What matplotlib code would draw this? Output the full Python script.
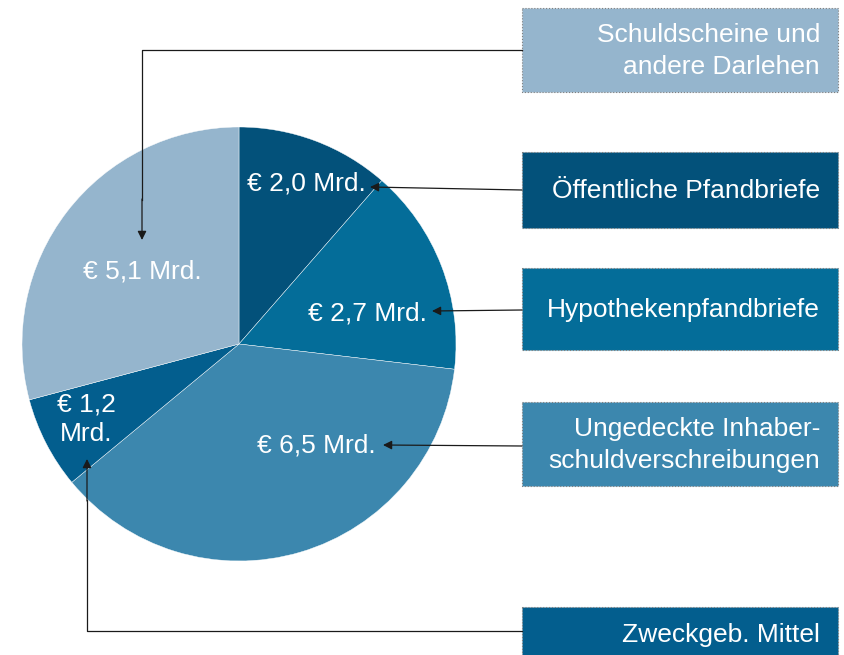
import matplotlib

matplotlib.use("Agg")
import matplotlib.pyplot as plt
from matplotlib.patches import Rectangle

# data (clockwise from 12 o'clock)
categories = [
    "Öffentliche Pfandbriefe",
    "Hypothekenpfandbriefe",
    "Ungedeckte Inhaber-\nschuldverschreibungen",
    "Zweckgeb. Mittel",
    "Schuldscheine und\nandere Darlehen",
]
values = [2.0, 2.7, 6.5, 1.2, 5.1]
value_labels = ["€ 2,0 Mrd.", "€ 2,7 Mrd.", "€ 6,5 Mrd.", "€ 1,2\nMrd.", "€ 5,1 Mrd."]
colors = ["#03517a", "#046d99", "#3c87ae", "#035e8e", "#95b5cd"]

plt.rcParams["font.family"] = ["Liberation Sans", "DejaVu Sans"]

fig = plt.figure(figsize=(8.44, 6.55), dpi=100)
ax = fig.add_axes([0, 0, 1, 1])

# pixel-like coordinates, y pointing down -> pie angles flip
ax.pie(values, colors=colors, startangle=-90, counterclock=True,
       center=(239, 344), radius=217,
       wedgeprops=dict(edgecolor="white", linewidth=0.3))
ax.set_xlim(0, 844)
ax.set_ylim(655, 0)
ax.set_aspect("equal")
ax.axis("off")

fs = 19
# value labels inside the wedges
label_pos = [(306, 184), (367, 313), (316, 446), (86, 419), (142, 271)]
for (x, y), txt in zip(label_pos, value_labels):
    ax.text(x, y, txt, color="white", fontsize=fs, ha="center", va="center",
            linespacing=1.3)

# legend boxes on the right
box_x, box_w = 522, 316
box_rows = [(152, 76), (268, 82), (402, 84), (607, 60), (8, 84)]
for (y, h), col, txt in zip(box_rows, colors, categories):
    ax.add_patch(Rectangle((box_x, y), box_w, h, facecolor=col,
                           edgecolor="#7f7f7f", linewidth=0.8, linestyle=":",
                           clip_on=False))
    ty = y + h / 2 + 1 if y + h <= 655 else 635
    ax.text(820, ty, txt, color="white", fontsize=fs, ha="right", va="center",
            linespacing=1.38)

arrow = dict(arrowstyle="-|>", color="#1a1a1a", lw=0.9, mutation_scale=13,
             shrinkA=0, shrinkB=0)

# straight connectors
ax.annotate("", xy=(370, 187), xytext=(522, 190), arrowprops=arrow)
ax.annotate("", xy=(432, 311), xytext=(522, 310), arrowprops=arrow)
ax.annotate("", xy=(383, 445), xytext=(522, 446), arrowprops=arrow)

# elbow connectors
ax.plot([522, 142, 142], [50, 50, 200], color="#1a1a1a", lw=0.9)
ax.annotate("", xy=(142, 240), xytext=(142, 199), arrowprops=arrow)
ax.plot([522, 87, 87], [631, 631, 500], color="#1a1a1a", lw=0.9)
ax.annotate("", xy=(87, 459), xytext=(87, 501), arrowprops=arrow)

fig.savefig("out.png", dpi=100)
